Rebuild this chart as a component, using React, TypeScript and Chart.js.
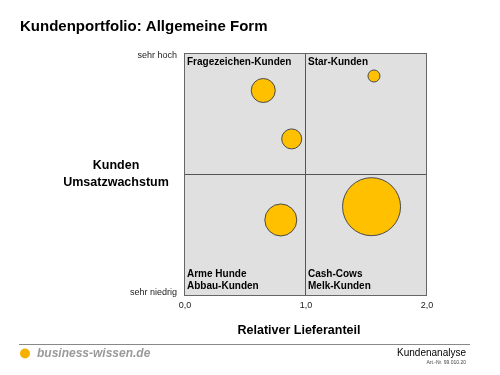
import React, { useEffect, useRef } from "react";
import { Chart, registerables } from "chart.js";

Chart.register(...registerables);

const title = "Kundenportfolio: Allgemeine Form";
const xTicks = [0, 1, 2];
const xTickLabels = ["0,0", "1,0", "2,0"];
const yLabelHigh = "sehr hoch";
const yLabelLow = "sehr niedrig";
const yTitle = ["Kunden", "Umsatzwachstum"];
const xTitle = "Relativer Lieferanteil";
const quadrantLabels = [
  { x: 0, y: 2, lines: ["Fragezeichen-Kunden"], pos: "top" },
  { x: 1, y: 2, lines: ["Star-Kunden"], pos: "top" },
  { x: 0, y: 0, lines: ["Arme Hunde", "Abbau-Kunden"], pos: "bottom" },
  { x: 1, y: 0, lines: ["Cash-Cows", "Melk-Kunden"], pos: "bottom" },
];
const bubbleX = [0.655, 0.89, 1.57, 0.8, 1.55];
const bubbleY = [1.69, 1.29, 1.81, 0.62, 0.73];
const bubbleR = [12, 10, 6, 16, 29];

const FONT = "Liberation Sans, Arial, Helvetica, sans-serif";

const decorPlugin = {
  id: "decor",
  beforeDatasetsDraw(chart: any) {
    const { ctx, chartArea, scales } = chart;
    const { left, right, top, bottom } = chartArea;
    ctx.save();
    ctx.fillStyle = "#e0e0e0";
    ctx.fillRect(left, top, right - left, bottom - top);
    ctx.strokeStyle = "#555555";
    ctx.lineWidth = 1;
    const mx = Math.round(scales.x.getPixelForValue(1)) + 0.5;
    const my = Math.round(scales.y.getPixelForValue(1)) + 0.5;
    ctx.beginPath();
    ctx.moveTo(mx, top);
    ctx.lineTo(mx, bottom);
    ctx.moveTo(left, my);
    ctx.lineTo(right, my);
    ctx.stroke();
    ctx.strokeStyle = "#666666";
    ctx.strokeRect(Math.round(left) + 0.5, Math.round(top) + 0.5, Math.round(right - left), Math.round(bottom - top));
    ctx.restore();
  },
  afterDraw(chart: any) {
    const { ctx, chartArea, scales } = chart;
    const { left, right, top, bottom } = chartArea;
    ctx.save();
    // Title
    ctx.fillStyle = "#000";
    ctx.textBaseline = "middle";
    ctx.textAlign = "left";
    ctx.font = `bold 15px ${FONT}`;
    ctx.fillText(title, 20, 27);

    // quadrant labels
    ctx.font = `bold 10px ${FONT}`;
    ctx.fillStyle = "#000";
    quadrantLabels.forEach((q) => {
      const px = scales.x.getPixelForValue(q.x) + 3;
      if (q.pos === "top") {
        const py = scales.y.getPixelForValue(q.y) + 9;
        q.lines.forEach((l, i) => ctx.fillText(l, px, py + i * 12));
      } else {
        const py = scales.y.getPixelForValue(q.y) - 9;
        const n = q.lines.length;
        q.lines.forEach((l, i) => ctx.fillText(l, px, py - (n - 1 - i) * 12));
      }
    });

    // y labels
    ctx.font = `9px ${FONT}`;
    ctx.textAlign = "right";
    ctx.fillStyle = "#222";
    ctx.fillText(yLabelHigh, left - 7, top + 3);
    ctx.fillText(yLabelLow, left - 7, bottom - 2);

    ctx.font = `bold 12.5px ${FONT}`;
    ctx.textAlign = "center";
    ctx.fillStyle = "#000";
    ctx.fillText(yTitle[0], 116, 166);
    ctx.fillText(yTitle[1], 116, 182.5);

    // x ticks
    ctx.font = `9px ${FONT}`;
    ctx.fillStyle = "#222";
    xTicks.forEach((t, i) => {
      ctx.fillText(xTickLabels[i], scales.x.getPixelForValue(t) + 1, bottom + 11);
    });
    ctx.font = `bold 12.5px ${FONT}`;
    ctx.fillStyle = "#000";
    ctx.fillText(xTitle, 299, 331);

    // footer
    ctx.strokeStyle = "#888";
    ctx.lineWidth = 1;
    ctx.beginPath();
    ctx.moveTo(19, 344.5);
    ctx.lineTo(470, 344.5);
    ctx.stroke();
    ctx.fillStyle = "#f5b000";
    ctx.beginPath();
    ctx.arc(25, 353.5, 5, 0, Math.PI * 2);
    ctx.fill();
    ctx.fillStyle = "#9a9a9a";
    ctx.textAlign = "left";
    ctx.font = `italic bold 12px ${FONT}`;
    ctx.fillText("business-wissen.de", 37, 354);

    ctx.fillStyle = "#000";
    ctx.textAlign = "right";
    ctx.font = `10px ${FONT}`;
    ctx.fillText("Kundenanalyse", 466, 353);
    ctx.font = `5px ${FONT}`;
    ctx.fillStyle = "#444";
    ctx.fillText("Art.-Nr. 99.010.20", 466, 363);
    ctx.restore();
  },
};

export default function App() {
  const ref = useRef<HTMLCanvasElement | null>(null);
  useEffect(() => {
    if (!ref.current) return;
    const data = bubbleX.map((x, i) => ({ x, y: bubbleY[i], r: bubbleR[i] }));
    const chart = new Chart(ref.current, {
      type: "bubble",
      data: {
        datasets: [
          {
            data,
            backgroundColor: "#ffc000",
            borderColor: "#4a4a4a",
            borderWidth: 1,
          },
        ],
      },
      options: {
        responsive: false,
        animation: false,
        layout: { padding: { left: 184, right: 74, top: 53, bottom: 80 } },
        plugins: { legend: { display: false }, tooltip: { enabled: false } },
        scales: {
          x: { type: "linear", min: 0, max: 2, display: false },
          y: { type: "linear", min: 0, max: 2, display: false },
        },
      },
      plugins: [decorPlugin],
    });
    return () => chart.destroy();
  }, []);
  return (
    <div style={{ position: "fixed", left: 0, top: 0, width: 500, height: 375, background: "#fff" }}>
      <canvas ref={ref} width={500} height={375} style={{ width: 500, height: 375 }} />
    </div>
  );
}
